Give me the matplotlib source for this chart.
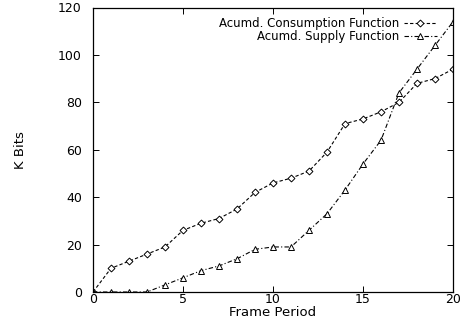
import matplotlib
matplotlib.use("Agg")
import matplotlib.pyplot as plt

# frame periods and accumulated values (K Bits)
frames = list(range(0, 21))
consumption = [0, 10, 13, 16, 19, 26, 29, 31, 35, 42, 46, 48, 51, 59, 71, 73, 76, 80, 88, 90, 94]
supply = [0, 0, 0, 0, 3, 6, 9, 11, 14, 18, 19, 19, 26, 33, 43, 54, 64, 84, 94, 104, 114]

plt.rcParams['font.family'] = ['DejaVu Sans']
plt.rcParams['font.size'] = 9.5

fig = plt.figure(figsize=(4.61, 3.24), dpi=100)
ax = fig.add_axes([93 / 461, 1 - 292 / 324, 360 / 461, (292 - 7.5) / 324])

ax.plot(frames, consumption, color='black', lw=0.8, dashes=(3, 2),
        marker='D', markersize=3.5, markerfacecolor='white', markeredgewidth=0.7,
        label='Acumd. Consumption Function')
ax.plot(frames, supply, color='black', lw=0.8, dashes=(4, 2, 1, 2),
        marker='^', markersize=5, markerfacecolor='white', markeredgewidth=0.7,
        label='Acumd. Supply Function')

ax.set_xlim(0, 20)
ax.set_ylim(0, 120)
ax.set_xticks([0, 5, 10, 15, 20])
ax.set_yticks([0, 20, 40, 60, 80, 100, 120])
ax.tick_params(direction='in', top=True, right=True, length=4, width=0.7, labelsize=9)
ax.tick_params(axis='x', pad=1)
ax.tick_params(axis='y', pad=8)
for s in ax.spines.values():
    s.set_linewidth(0.9)

ax.set_xlabel('Frame Period', labelpad=0)
ax.set_ylabel('K Bits', labelpad=22)

ax.legend(loc='upper right', markerfirst=False, frameon=False, fontsize=8.5,
          handlelength=2.8, handletextpad=0.4, labelspacing=0.0,
          borderaxespad=0.0, borderpad=0.0, bbox_to_anchor=(0.955, 0.965))

fig.savefig('out.png', dpi=100)
